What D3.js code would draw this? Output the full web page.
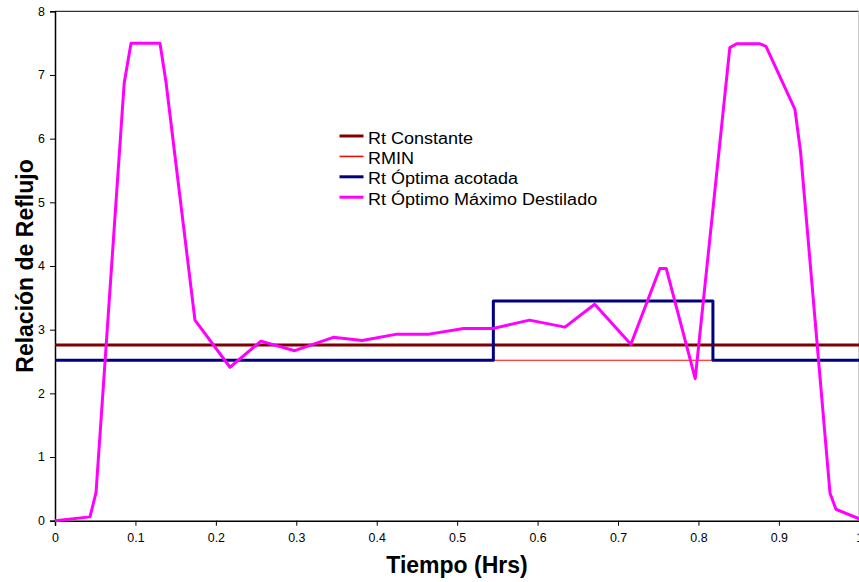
<!DOCTYPE html>
<html>
<head>
<meta charset="utf-8">
<script src="https://cdn.jsdelivr.net/npm/d3@7"></script>
<style>
  body { margin: 0; background: #fff; }
  svg { font-family: Arial, "Liberation Sans", sans-serif; }
</style>
</head>
<body>
<svg width="859" height="582"></svg>
<script>
// time (hrs) and reflux ratio for each series
const maxDestTime = [0, 0.0435, 0.051, 0.086, 0.0945, 0.1305, 0.138, 0.174, 0.2176, 0.256, 0.298, 0.346, 0.382, 0.425, 0.465, 0.508, 0.545, 0.59, 0.634, 0.671, 0.716, 0.752, 0.760, 0.796, 0.839, 0.8475, 0.8765, 0.884, 0.92, 0.927, 0.9636, 0.971, 1.0];
const maxDestValue = [0, 0.06, 0.44, 6.87, 7.5, 7.5, 6.89, 3.15, 2.41, 2.82, 2.67, 2.88, 2.83, 2.93, 2.93, 3.02, 3.02, 3.15, 3.04, 3.40, 2.77, 3.96, 3.96, 2.23, 7.43, 7.49, 7.49, 7.45, 6.46, 5.79, 0.43, 0.18, 0.03];

const optimaTime = [0, 0.545, 0.818, 1];
const optimaValue = [2.52, 3.45, 2.52, 2.52];

const constTime = [0, 1];
const constValue = [2.76, 2.76];

const rminTime = [0, 1];
const rminValue = [2.52, 2.52];

const xTicks = [0, 0.1, 0.2, 0.3, 0.4, 0.5, 0.6, 0.7, 0.8, 0.9, 1];
const yTicks = [0, 1, 2, 3, 4, 5, 6, 7, 8];

const legendNames = ['Rt Constante', 'RMIN', 'Rt Óptima acotada', 'Rt Óptimo Máximo Destilado'];
const colors = ['#800000', '#ff0000', '#000080', '#ff00ff'];
const widths = [3, 1, 3, 3];

const x = d3.scaleLinear().domain([0, 1]).range([55, 859.3]);
const y = d3.scaleLinear().domain([0, 8]).range([520.7, 11.3]);

const svg = d3.select('svg');

// plot frame (top and right edges)
svg.append('line')
	.attr('x1', x(0)).attr('x2', x(1))
	.attr('y1', y(8)).attr('y2', y(8))
	.attr('stroke', '#000').attr('stroke-width', 1);
svg.append('line')
	.attr('x1', 858.5).attr('x2', 858.5)
	.attr('y1', y(8)).attr('y2', y(0))
	.attr('stroke', '#ccc').attr('stroke-width', 1);

const xAxis = svg.append('g')
	.attr('transform', `translate(0,${y(0)})`)
	.call(d3.axisBottom(x).tickValues(xTicks).tickSize(5).tickPadding(8).tickFormat(d3.format('')));
const yAxis = svg.append('g')
	.attr('transform', `translate(${x(0)},0)`)
	.call(d3.axisLeft(y).tickValues(yTicks).tickSize(5).tickPadding(5));

[xAxis, yAxis].forEach(a => {
	a.select('.domain').attr('stroke', '#000').attr('stroke-width', 1.5);
	a.selectAll('.tick line').attr('stroke', '#000');
	a.selectAll('.tick text').attr('font-size', 12.4).attr('fill', '#000').attr('font-family', 'Arial, "Liberation Sans", sans-serif');
});

const line = d3.line().x(d => x(d[0])).y(d => y(d[1]));
const stepLine = d3.line().x(d => x(d[0])).y(d => y(d[1])).curve(d3.curveStepAfter);

const series = [
	{ data: d3.zip(constTime, constValue), gen: line },
	{ data: d3.zip(rminTime, rminValue), gen: line },
	{ data: d3.zip(optimaTime, optimaValue), gen: stepLine },
	{ data: d3.zip(maxDestTime, maxDestValue), gen: line }
];

series.forEach((s, i) => {
	svg.append('path')
		.attr('d', s.gen(s.data))
		.attr('fill', 'none')
		.attr('stroke', colors[i])
		.attr('stroke-width', widths[i])
		.attr('stroke-linejoin', 'round');
});

// legend
const legend = svg.append('g').attr('transform', 'translate(339.5,136)');
legendNames.forEach((name, i) => {
	const g = legend.append('g').attr('transform', `translate(0,${i * 20.4})`);
	g.append('line')
		.attr('x1', 0).attr('x2', 24)
		.attr('stroke', colors[i])
		.attr('stroke-width', widths[i] === 1 ? 1.5 : 3);
	g.append('text')
		.attr('transform', 'translate(28.5,7.5) scale(1.14,1)')
		.attr('font-size', 15.8)
		.text(name);
});

// axis titles
svg.append('text')
	.attr('x', 457).attr('y', 573)
	.attr('text-anchor', 'middle')
	.attr('font-size', 23).attr('font-weight', 'bold')
	.text('Tiempo (Hrs)');
svg.append('text')
	.attr('transform', 'translate(33,266) rotate(-90)')
	.attr('text-anchor', 'middle')
	.attr('font-size', 23).attr('font-weight', 'bold')
	.text('Relación de Reflujo');
</script>
</body>
</html>
